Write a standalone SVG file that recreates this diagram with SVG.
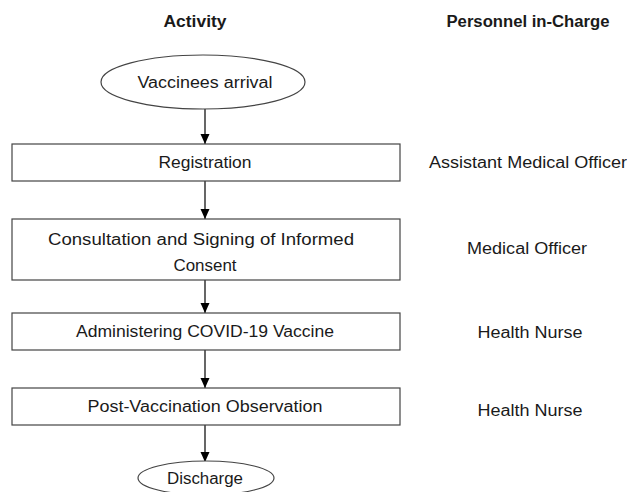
<svg xmlns="http://www.w3.org/2000/svg" width="627" height="492" viewBox="0 0 627 492">
<style>
text{font-family:"Liberation Sans",Arial,sans-serif;font-size:16px;fill:#1a1a1a;text-anchor:middle}
.h{font-weight:bold}
.box{fill:#fff;stroke:#444;stroke-width:1.2}
.conn{stroke:#000;stroke-width:1.2;fill:none;marker-end:url(#ah)}
</style>
<defs>
<marker id="ah" markerUnits="userSpaceOnUse" markerWidth="10" markerHeight="10" viewBox="0 0 10 10" refX="10" refY="5" orient="auto">
<path d="M0,0.5 L10,5 L0,9.5 Z" fill="#000"/>
</marker>
</defs>
<rect width="627" height="492" fill="#fff"/>
<g id="headers">
<text class="h" x="195" y="27" textLength="63" lengthAdjust="spacingAndGlyphs">Activity</text>
<text class="h" x="528" y="27" textLength="163" lengthAdjust="spacingAndGlyphs">Personnel in-Charge</text>
</g>
<g id="connectors">
<line class="conn" x1="205" y1="109" x2="205" y2="144"/>
<line class="conn" x1="205" y1="181" x2="205" y2="219"/>
<line class="conn" x1="205" y1="280" x2="205" y2="313"/>
<line class="conn" x1="205" y1="350" x2="205" y2="388"/>
<line class="conn" x1="205" y1="425" x2="205" y2="462"/>
</g>
<g id="arrival">
<ellipse class="box" cx="203" cy="82" rx="102" ry="27"/>
<text x="205" y="88" textLength="135" lengthAdjust="spacingAndGlyphs">Vaccinees  arrival</text>
</g>
<g id="registration">
<rect class="box" x="12" y="144" width="388" height="37"/>
<text x="205" y="168" textLength="93" lengthAdjust="spacingAndGlyphs">Registration</text>
</g>
<g id="consultation">
<rect class="box" x="12" y="219" width="388" height="61"/>
<text x="201" y="245" textLength="306" lengthAdjust="spacingAndGlyphs">Consultation and Signing of Informed</text>
<text x="205" y="271" textLength="63" lengthAdjust="spacingAndGlyphs">Consent</text>
</g>
<g id="administering">
<rect class="box" x="12" y="313" width="388" height="37"/>
<text x="205" y="337" textLength="258" lengthAdjust="spacingAndGlyphs">Administering COVID-19 Vaccine</text>
</g>
<g id="observation">
<rect class="box" x="12" y="388" width="388" height="37"/>
<text x="205" y="412" textLength="235" lengthAdjust="spacingAndGlyphs">Post-Vaccination Observation</text>
</g>
<g id="discharge">
<ellipse class="box" cx="206" cy="478" rx="68" ry="17"/>
<text x="205" y="484" textLength="76" lengthAdjust="spacingAndGlyphs">Discharge</text>
</g>
<g id="personnel">
<text x="528" y="168" textLength="198" lengthAdjust="spacingAndGlyphs">Assistant Medical Officer</text>
<text x="527" y="254" textLength="120" lengthAdjust="spacingAndGlyphs">Medical Officer</text>
<text x="530" y="338" textLength="105" lengthAdjust="spacingAndGlyphs">Health Nurse</text>
<text x="530" y="416" textLength="105" lengthAdjust="spacingAndGlyphs">Health Nurse</text>
</g>
</svg>
